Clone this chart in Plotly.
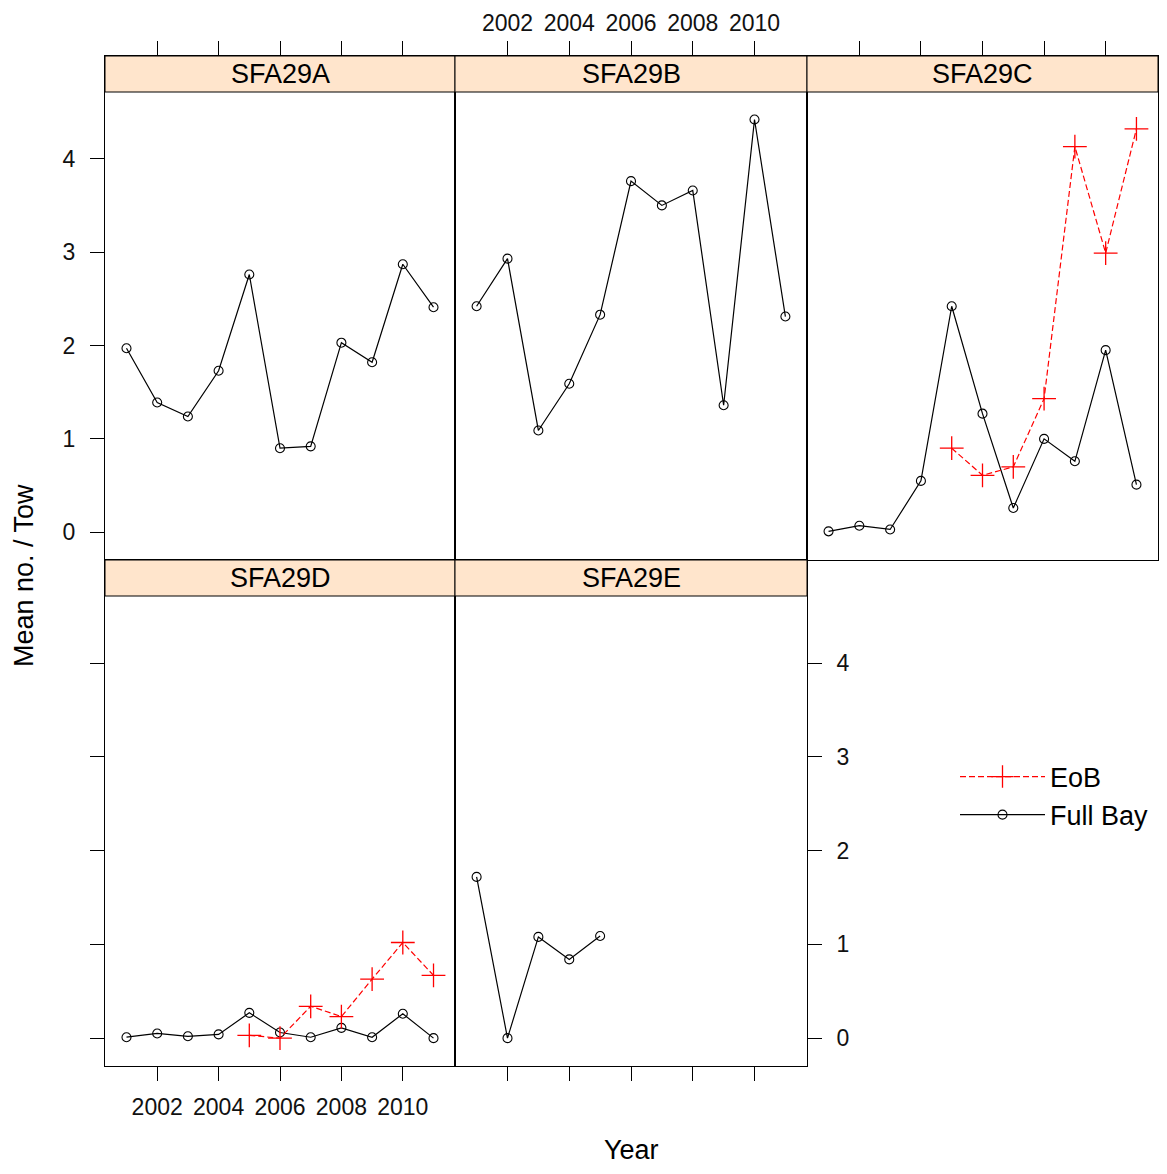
import plotly.graph_objects as go

# ---------------- data ----------------
years = [2001, 2002, 2003, 2004, 2005, 2006, 2007, 2008, 2009, 2010, 2011]
years_E = [2001, 2002, 2003, 2004, 2005]
eob_years = [2005, 2006, 2007, 2008, 2009, 2010, 2011]

panel_names = ["SFA29A", "SFA29B", "SFA29C", "SFA29D", "SFA29E"]

fullbay_A = [1.97, 1.39, 1.24, 1.73, 2.76, 0.90, 0.92, 2.03, 1.82, 2.87, 2.41]
fullbay_B = [2.42, 2.93, 1.09, 1.59, 2.33, 3.76, 3.50, 3.66, 1.36, 4.42, 2.31]
fullbay_C = [0.01, 0.07, 0.03, 0.55, 2.42, 1.27, 0.26, 1.00, 0.76, 1.95, 0.51]
fullbay_D = [0.01, 0.05, 0.02, 0.04, 0.27, 0.06, 0.01, 0.11, 0.01, 0.26, 0.00]
fullbay_E = [1.72, 0.00, 1.08, 0.84, 1.09]

eob_C = [0.90, 0.61, 0.70, 1.43, 4.13, 2.99, 4.32]
eob_D = [0.03, 0.00, 0.34, 0.23, 0.63, 1.02, 0.67]

x_tickvals = [2002, 2004, 2006, 2008, 2010]
y_tickvals = [0, 1, 2, 3, 4]

# ---------------- layout helpers ----------------
OFF = 8  # default body margin of the html page
W, H = 1167 - 2 * OFF, 1174 - 2 * OFF
FONT = "Liberation Sans, Arial, sans-serif"


def px(x):
    return (x - OFF) / W


def py(y):
    return 1 - (y - OFF) / H


cols = [(105, 455), (455, 807), (807, 1158)]
rows = [(56, 560), (560, 1066)]
STRIP = 36
X_RANGE = [2000.3, 2011.7]
Y_RANGE = [-0.297, 5.10]

fig = go.Figure()

fullbay = [(years, fullbay_A), (years, fullbay_B), (years, fullbay_C),
           (years, fullbay_D), (years_E, fullbay_E)]
eob = {2: eob_C, 3: eob_D}

panel_pos = [(0, 0), (0, 1), (0, 2), (1, 0), (1, 1)]

# Full Bay traces
for i, (xs, ys) in enumerate(fullbay):
    n = i + 1
    fig.add_trace(go.Scatter(
        x=xs, y=ys, mode="lines+markers", name="Full Bay",
        legendgroup="fb", showlegend=(i == 0), legendrank=2,
        line=dict(color="black", width=1.2),
        marker=dict(symbol="circle-open", size=9, color="black", line=dict(width=1.1)),
        xaxis=f"x{n}", yaxis=f"y{n}", hoverinfo="x+y"))

# EoB traces
first = True
for i, ys in eob.items():
    n = i + 1
    fig.add_trace(go.Scatter(
        x=eob_years, y=ys, mode="lines+markers", name="EoB",
        legendgroup="eob", showlegend=first, legendrank=1,
        line=dict(color="red", width=1.2, dash="6px,3px"),
        marker=dict(symbol="cross-thin-open", size=17, color="red", line=dict(width=1.3, color="red")),
        xaxis=f"x{n}", yaxis=f"y{n}", hoverinfo="x+y"))
    first = False

# axis side / tick configuration per panel (lattice alternating axes)
xcfg = [
    dict(side="top", ticks="outside", showticklabels=False, ticklabelstandoff=1),
    dict(side="top", ticks="outside", showticklabels=True, ticklabelstandoff=1),
    dict(side="top", ticks="outside", showticklabels=False, ticklabelstandoff=1),
    dict(side="bottom", ticks="outside", showticklabels=True, ticklabelstandoff=6),
    dict(side="bottom", ticks="outside", showticklabels=False, ticklabelstandoff=6),
]
ycfg = [
    dict(side="left", ticks="outside", showticklabels=True),
    dict(side="left", ticks="", showticklabels=False),
    dict(side="right", ticks="outside", showticklabels=False),
    dict(side="left", ticks="outside", showticklabels=False),
    dict(side="right", ticks="outside", showticklabels=True),
]

shapes = []
annotations = []
layout_axes = {}
for i, (r, c) in enumerate(panel_pos):
    n = i + 1
    x0, x1 = cols[c]
    y0, y1 = rows[r]
    common = dict(showline=True, linecolor="black", linewidth=1, mirror=True,
                  showgrid=False, zeroline=False, ticklen=14, tickwidth=1,
                  tickcolor="black", automargin=False,
                  tickfont=dict(family=FONT, size=23, color="#111"))
    layout_axes[f"xaxis{n}"] = dict(
        domain=[px(x0), px(x1)], anchor=f"y{n}", range=X_RANGE,
        tickmode="array", tickvals=x_tickvals,
        **common, **xcfg[i])
    layout_axes[f"yaxis{n}"] = dict(
        domain=[py(y1), py(y0)], anchor=f"x{n}", range=Y_RANGE,
        tickmode="array", tickvals=y_tickvals, ticklabelstandoff=10,
        **common, **ycfg[i])
    # strip
    shapes.append(dict(type="rect", xref="paper", yref="paper",
                       x0=px(x0), x1=px(x1), y0=py(y0 + STRIP), y1=py(y0),
                       fillcolor="#FFE5CC", line=dict(color="black", width=1),
                       layer="above"))
    annotations.append(dict(text=panel_names[i], xref="paper", yref="paper",
                            x=px((x0 + x1) / 2), y=py(y0 + STRIP / 2),
                            showarrow=False, xanchor="center", yanchor="middle",
                            font=dict(family=FONT, size=27, color="black")))

annotations.append(dict(text="Year", xref="paper", yref="paper",
                        x=px(631), y=py(1150), showarrow=False,
                        xanchor="center", yanchor="middle",
                        font=dict(family=FONT, size=27, color="black")))
annotations.append(dict(text="Mean no. / Tow", xref="paper", yref="paper",
                        x=px(24), y=py(576), showarrow=False, textangle=-90,
                        xanchor="center", yanchor="middle",
                        font=dict(family=FONT, size=27, color="black")))

fig.update_layout(
    width=W, height=H, autosize=False,
    margin=dict(l=0, r=0, t=0, b=0, autoexpand=False),
    paper_bgcolor="white", plot_bgcolor="white",
    shapes=shapes, annotations=annotations,
    showlegend=True,
    legend=dict(x=px(955), y=py(796), xanchor="left", yanchor="middle",
                font=dict(family=FONT, size=27, color="black"),
                itemwidth=85, bgcolor="rgba(0,0,0,0)", tracegroupgap=0),
    hovermode="closest",
    **layout_axes,
)

fig.write_html("out.html")
